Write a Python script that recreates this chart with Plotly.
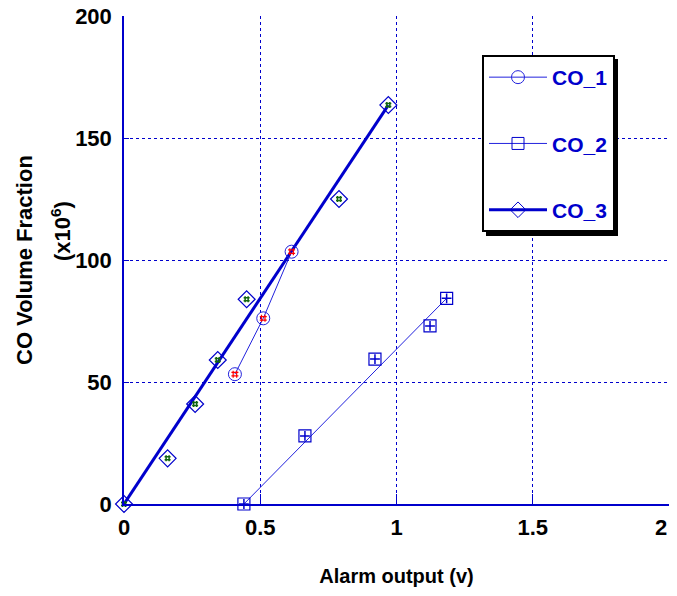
import plotly.graph_objects as go

# ---- data ----
co1_x = [0.407, 0.511, 0.615]
co1_y = [53.2, 76.1, 103.4]

co2_x = [0.44, 0.664, 0.921, 1.123, 1.184]
co2_y = [0.0, 27.9, 59.4, 73.0, 84.3]

co3_x = [0.0, 0.160, 0.261, 0.344, 0.450, 0.789, 0.970]
co3_y = [0.0, 18.7, 41.0, 59.0, 83.9, 125.0, 163.5]

x_ticks = [0, 0.5, 1, 1.5, 2]
x_ticklabels = ["0", "0.5", "1", "1.5", "2"]
y_ticks = [0, 50, 100, 150, 200]
y_ticklabels = ["0", "50", "100", "150", "200"]

BLUE = "#0000CC"
LBLUE = "#2222DD"
FONT = "Liberation Sans, Arial, sans-serif"

fig = go.Figure()

# CO_1 : polyline through points
fig.add_trace(go.Scatter(x=co1_x, y=co1_y, mode="lines", line=dict(color=LBLUE, width=1),
                         showlegend=False, cliponaxis=False, hoverinfo="skip"))
# CO_2 : straight line first->last
fig.add_trace(go.Scatter(x=[co2_x[0], co2_x[-1]], y=[co2_y[0], co2_y[-1]], mode="lines",
                         line=dict(color=LBLUE, width=1), showlegend=False, hoverinfo="skip"))
# CO_3 : thick straight line first->last
fig.add_trace(go.Scatter(x=[co3_x[0], co3_x[-1]], y=[co3_y[0], co3_y[-1]], mode="lines",
                         line=dict(color=BLUE, width=3), showlegend=False, hoverinfo="skip"))

# markers
fig.add_trace(go.Scatter(x=co1_x, y=co1_y, mode="markers", showlegend=False, cliponaxis=False,
                         marker=dict(symbol="circle-open", size=13, color=LBLUE, line=dict(width=1))))
fig.add_trace(go.Scatter(x=co1_x, y=co1_y, mode="markers", showlegend=False, cliponaxis=False,
                         marker=dict(symbol="hash", size=7, color="red", line=dict(width=1.2, color="red"))))
fig.add_trace(go.Scatter(x=co2_x, y=co2_y, mode="markers", showlegend=False, cliponaxis=False,
                         marker=dict(symbol="square-open", size=12, color=BLUE, line=dict(width=1.2))))
fig.add_trace(go.Scatter(x=co2_x, y=co2_y, mode="markers", showlegend=False, cliponaxis=False,
                         marker=dict(symbol="cross-thin", size=7, color=BLUE, line=dict(width=1.5, color=BLUE))))
fig.add_trace(go.Scatter(x=co3_x, y=co3_y, mode="markers", showlegend=False, cliponaxis=False,
                         marker=dict(symbol="diamond-open", size=13, color=BLUE, line=dict(width=1.2))))
fig.add_trace(go.Scatter(x=co3_x, y=co3_y, mode="markers", showlegend=False, cliponaxis=False,
                         marker=dict(symbol="hash", size=6, color="#116611", line=dict(width=1.5, color="#116611"))))

# legend entries
fig.add_trace(go.Scatter(x=[None], y=[None], name="CO_1", mode="lines+markers", legendgroup="a",
                         line=dict(color=LBLUE, width=1),
                         marker=dict(symbol="circle-open", size=13, color=LBLUE, line=dict(width=1))))
fig.add_trace(go.Scatter(x=[None], y=[None], name="CO_2", mode="lines+markers", legendgroup="b",
                         line=dict(color=LBLUE, width=1),
                         marker=dict(symbol="square-open", size=12, color=BLUE, line=dict(width=1))))
fig.add_trace(go.Scatter(x=[None], y=[None], name="CO_3", mode="lines+markers", legendgroup="c",
                         line=dict(color=BLUE, width=3),
                         marker=dict(symbol="diamond-open", size=12, color=BLUE, line=dict(width=1))))

TICKFONT = dict(family=FONT, size=22, color="black", weight="bold")
axis_common = dict(
    showgrid=True, gridcolor=BLUE, griddash="dot", gridwidth=1,
    showline=True, linecolor=BLUE, linewidth=1.5, mirror=False,
    zeroline=False, ticks="inside", tickcolor=BLUE, automargin=False,
    ticklabeloverflow="allow", tickfont=TICKFONT,
)

FIG_W, FIG_H = 677, 596
# plot area in window pixels
L, T, R, B = 124, 16, 669, 504
W, H = R - L, B - T

def px(xp):
    return (xp - L) / W

def py(yp):
    return (B - yp) / H

# last x tick label is drawn as an annotation, nudged inside the window
x_text_main = x_ticklabels[:-1] + [""]

fig.update_layout(
    width=FIG_W, height=FIG_H,
    margin=dict(l=L, r=FIG_W - R, t=T, b=FIG_H - B),
    paper_bgcolor="white", plot_bgcolor="white",
    xaxis=dict(range=[0, 2], tickvals=x_ticks, ticktext=x_text_main, ticklen=10,
               ticklabelstandoff=3,
               title=dict(text="Alarm output (v)", standoff=30,
                          font=dict(family=FONT, size=20, color="black", weight="bold")),
               **axis_common),
    yaxis=dict(range=[0, 200], tickvals=y_ticks, ticktext=y_ticklabels, ticklen=5,
               ticklabelstandoff=6, **axis_common),
    annotations=[
        dict(text=x_ticklabels[-1], xref="x", yref="paper", x=x_ticks[-1], y=py(527),
             xanchor="center", yanchor="middle", xshift=-8, showarrow=False, font=TICKFONT),
        dict(text="CO Volume Fraction", xref="paper", yref="paper",
             x=px(24), y=py(260), xanchor="center", yanchor="middle", textangle=-90,
             showarrow=False, font=dict(family=FONT, size=22, color="black", weight="bold")),
        dict(text="(x10<sup>6</sup>)", xref="paper", yref="paper",
             x=px(61), y=py(231), xanchor="center", yanchor="middle", textangle=-90,
             showarrow=False, font=dict(family=FONT, size=22, color="black", weight="bold")),
    ],
    legend=dict(x=px(482), y=py(55), xanchor="left", yanchor="top",
                bgcolor="white", bordercolor="black", borderwidth=2,
                font=dict(family=FONT, size=21, color=BLUE, weight="bold"),
                itemwidth=58, tracegroupgap=36, traceorder="grouped"),
    shapes=[dict(type="rect", xref="paper", yref="paper",
                 x0=px(486), x1=px(618), y0=py(236), y1=py(59),
                 fillcolor="black", line=dict(width=0), layer="above")],
    showlegend=True,
)

fig.write_html("out.html", config={"displayModeBar": False},
               post_script="document.body.style.margin='0';document.body.style.overflow='hidden';")
